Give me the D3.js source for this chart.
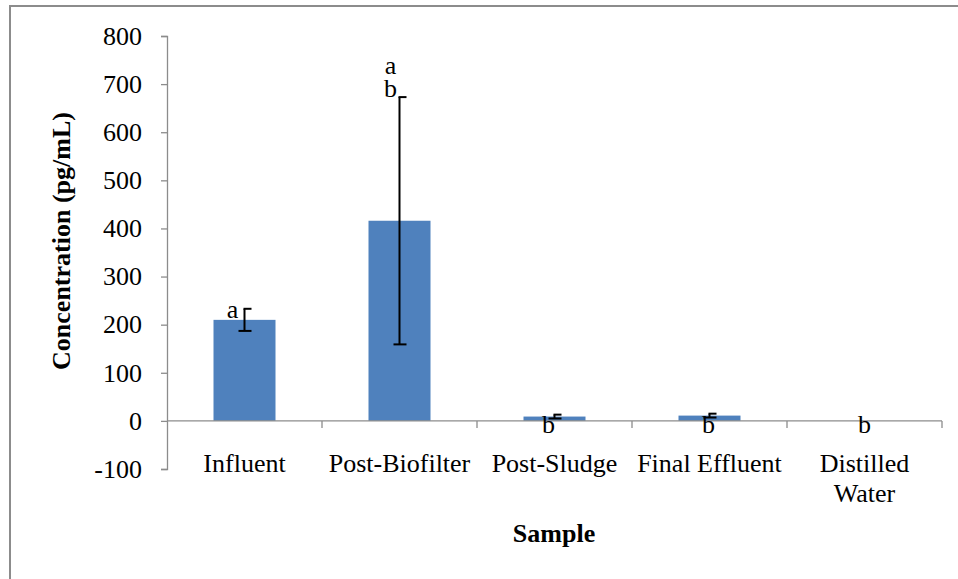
<!DOCTYPE html>
<html>
<head>
<meta charset="utf-8">
<script src="https://cdn.jsdelivr.net/npm/d3@7"></script>
<style>
  html, body { margin: 0; padding: 0; background: #fff; }
  svg text { font-family: "Liberation Serif", "Times New Roman", serif; fill: #000; }
</style>
</head>
<body>
<svg id="chart" width="958" height="579"></svg>
<script>
// Sample categories, mean concentrations (pg/mL), standard errors and significance letters
const categories = ["Influent", "Post-Biofilter", "Post-Sludge", "Final Effluent", "Distilled Water"];
const values = [210, 416, 9, 11, 0];
const errors = [23, 257, 4, 4, 0];
const letters = [["a"], ["a", "b"], ["b"], ["b"], ["b"]];
const yTicks = [-100, 0, 100, 200, 300, 400, 500, 600, 700, 800];

const FS = 26;
const svg = d3.select("#chart");

// Outer frame
svg.append("rect")
  .attr("x", 10).attr("y", 6).attr("width", 960).attr("height", 600)
  .attr("fill", "none").attr("stroke", "#8c8c8c").attr("stroke-width", 2);

const plot = { left: 167, right: 942, top: 36, bottom: 469 };

const y = d3.scaleLinear().domain([-100, 800]).range([plot.bottom, plot.top]);
const x = d3.scaleBand().domain(categories).range([plot.left, plot.right]).paddingInner(0.6).paddingOuter(0.3);
const xCat = d3.scaleBand().domain(categories).range([plot.left, plot.right]);

// Y axis
const yAxis = svg.append("g")
  .attr("transform", `translate(${plot.left},0)`)
  .call(d3.axisLeft(y).tickValues(yTicks).tickSize(6).tickPadding(19).tickFormat(d => String(d)));
yAxis.select(".domain").attr("stroke", "#8c8c8c").attr("stroke-width", 1.3);
yAxis.selectAll(".tick line").attr("stroke", "#8c8c8c").attr("stroke-width", 1.3);
yAxis.selectAll(".tick text").attr("font-size", FS).attr("font-family", "Liberation Serif").attr("fill", "#000");

// Bars
svg.append("g").selectAll("rect").data(categories).join("rect")
  .attr("x", d => x(d))
  .attr("width", x.bandwidth())
  .attr("y", (d, i) => y(Math.max(0, values[i])))
  .attr("height", (d, i) => Math.abs(y(values[i]) - y(0)))
  .attr("fill", "#4f81bd");

// X axis along the zero line, with ticks at category boundaries
const zeroY = y(0);
svg.append("line")
  .attr("x1", plot.left).attr("x2", plot.right)
  .attr("y1", zeroY).attr("y2", zeroY)
  .attr("stroke", "#8c8c8c").attr("stroke-width", 1.3);
const bounds = categories.map(d => xCat(d)).concat([plot.right]).slice(1);
svg.append("g").selectAll("line").data(bounds).join("line")
  .attr("x1", d => d).attr("x2", d => d)
  .attr("y1", zeroY).attr("y2", zeroY + 7)
  .attr("stroke", "#8c8c8c").attr("stroke-width", 1.3);

// Error bars (upper whisker cap drawn to the right, lower cap full width)
const eb = svg.append("g").attr("stroke", "#000").attr("stroke-width", 2);
categories.forEach((c, i) => {
  if (!errors[i]) return;
  const cx = x(c) + x.bandwidth() / 2;
  const hi = y(values[i] + errors[i]);
  const lo = y(values[i] - errors[i]);
  eb.append("line").attr("x1", cx).attr("x2", cx).attr("y1", hi).attr("y2", lo);
  eb.append("line").attr("x1", cx - 1).attr("x2", cx + 7).attr("y1", hi).attr("y2", hi);
  eb.append("line").attr("x1", cx - 6).attr("x2", cx + 7).attr("y1", lo).attr("y2", lo);
});

// Significance letters
const lab = svg.append("g").attr("font-size", FS).attr("text-anchor", "middle");
const mid = i => x(categories[i]) + x.bandwidth() / 2;
// Influent: left of the error bar, at the top of the bar
lab.append("text").attr("x", mid(0) - 12).attr("y", y(values[0]) - 2).text(letters[0][0]);
// Post-Biofilter: two letters stacked above the upper whisker
const topB = y(values[1] + errors[1]);
const stack = lab.append("text").attr("x", mid(1) - 9).attr("y", topB - 23);
letters[1].forEach((l, k) => {
  stack.append("tspan").attr("x", mid(1) - 9).attr("dy", k ? 23 : 0).text(l);
});
// Low-value samples: centred on the bar, straddling the zero line
lab.append("text").attr("x", mid(2) - 6).attr("y", y(values[2]) + 16).text(letters[2][0]);
lab.append("text").attr("x", mid(3) - 1).attr("y", y(values[3]) + 17).text(letters[3][0]);
lab.append("text").attr("x", mid(4)).attr("y", y(values[4]) + 12).text(letters[4][0]);

// Category labels
const catLab = svg.append("g").attr("font-size", FS).attr("text-anchor", "middle");
categories.forEach((c, i) => {
  const cx = xCat(c) + xCat.bandwidth() / 2;
  const t = catLab.append("text").attr("x", cx).attr("y", 472);
  if (c === "Distilled Water") {
    t.append("tspan").attr("x", cx).text("Distilled");
    t.append("tspan").attr("x", cx).attr("dy", 30).text("Water");
  } else {
    t.text(c);
  }
});

// Axis titles
svg.append("text")
  .attr("transform", "translate(70,241) rotate(-90)")
  .attr("text-anchor", "middle").attr("font-size", FS).attr("font-weight", "bold")
  .text("Concentration (pg/mL)");
svg.append("text")
  .attr("x", 554).attr("y", 542)
  .attr("text-anchor", "middle").attr("font-size", FS).attr("font-weight", "bold")
  .text("Sample");
</script>
</body>
</html>
